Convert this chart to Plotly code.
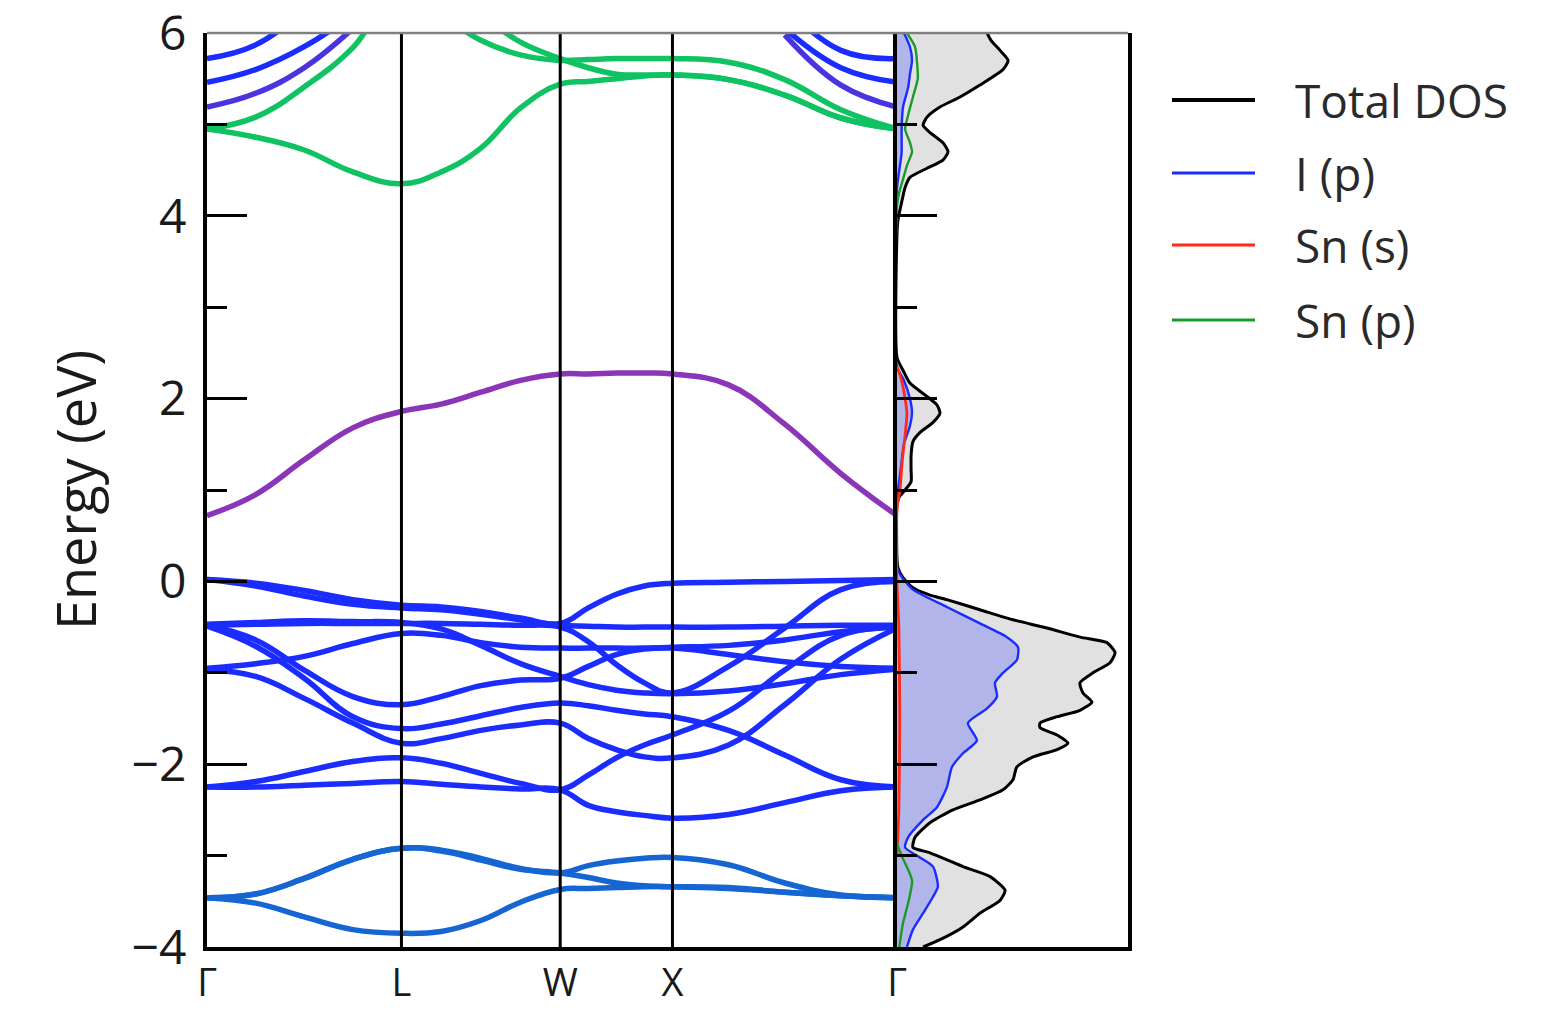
import plotly.graph_objects as go

# ---------------------------------------------------------------------------
# k-path through the fcc Brillouin zone (distances in units of 2*pi/a)
hs_labels = ["Γ", "L", "W", "X", "Γ"]
hs_k = [0.0, 0.866, 1.573, 2.073, 3.073]

# sampling points: each segment split at its quarter points
k_grid = [0.0, 0.2165, 0.433, 0.6495, 0.866,
          1.0428, 1.2195, 1.3963, 1.573,
          1.698, 1.823, 1.948, 2.073,
          2.323, 2.573, 2.823, 3.073]

# ---------------------------------------------------------------------------
# Band energies (eV) on k_grid
# valence I-5p manifold
vb_1 = [0.02, -0.02, -0.10, -0.20, -0.26, -0.28, -0.33, -0.40, -0.46, -0.29, -0.14, -0.05, -0.02, -0.01, 0.00, 0.01, 0.02]
vb_2 = [0.02, -0.05, -0.16, -0.25, -0.29, -0.31, -0.36, -0.42, -0.48, -0.49, -0.50, -0.50, -0.50, -0.50, -0.49, -0.48, -0.48]
vb_3 = [-0.47, -0.45, -0.43, -0.44, -0.45, -0.52, -0.70, -0.90, -1.04, -1.13, -1.19, -1.22, -1.23, -1.20, -1.12, -1.02, -0.96]
vb_4 = [-0.48, -0.47, -0.46, -0.46, -0.46, -0.46, -0.47, -0.48, -0.50, -0.66, -0.91, -1.11, -1.22, -0.93, -0.51, -0.09, 0.00]
vb_5 = [-0.48, -0.64, -0.97, -1.26, -1.35, -1.26, -1.14, -1.08, -1.06, -0.93, -0.80, -0.74, -0.73, -0.80, -0.88, -0.93, -0.95]
vb_6 = [-0.49, -0.71, -1.06, -1.48, -1.61, -1.56, -1.47, -1.38, -1.33, -1.36, -1.41, -1.45, -1.48, -1.63, -1.90, -2.17, -2.25]
vb_7 = [-0.97, -1.04, -1.28, -1.55, -1.77, -1.72, -1.63, -1.57, -1.55, -1.72, -1.84, -1.92, -1.93, -1.79, -1.35, -0.85, -0.51]
vb_8 = [-0.95, -0.90, -0.82, -0.68, -0.57, -0.59, -0.67, -0.72, -0.73, -0.73, -0.73, -0.73, -0.72, -0.70, -0.64, -0.55, -0.50]
vb_9 = [-2.25, -2.25, -2.23, -2.21, -2.19, -2.22, -2.25, -2.27, -2.28, -2.45, -2.52, -2.56, -2.59, -2.55, -2.42, -2.29, -2.25]
vb_10 = [-2.25, -2.19, -2.08, -1.97, -1.93, -1.99, -2.10, -2.21, -2.28, -2.12, -1.93, -1.79, -1.68, -1.42, -0.97, -0.59, -0.50]

# deeper bands around -3 eV
db_1 = [-3.46, -3.42, -3.25, -3.04, -2.92, -2.94, -3.03, -3.14, -3.19, -3.11, -3.06, -3.03, -3.02, -3.10, -3.30, -3.43, -3.46]
db_2 = [-3.46, -3.42, -3.25, -3.04, -2.92, -2.95, -3.05, -3.15, -3.19, -3.24, -3.30, -3.33, -3.34, -3.36, -3.40, -3.44, -3.46]
db_3 = [-3.46, -3.52, -3.67, -3.81, -3.85, -3.83, -3.71, -3.51, -3.37, -3.36, -3.35, -3.34, -3.34, -3.35, -3.40, -3.44, -3.46]

# isolated lowest conduction band
cb_low = [0.72, 0.95, 1.33, 1.68, 1.86, 1.94, 2.07, 2.20, 2.27, 2.27, 2.28, 2.28, 2.27, 2.15, 1.72, 1.18, 0.72]

# upper conduction bands (Sn-5p like)
cb_g1 = [4.95, 4.86, 4.72, 4.48, 4.35, 4.48, 4.74, 5.18, 5.44, 5.47, 5.50, 5.53, 5.54, 5.49, 5.32, 5.07, 4.95]
cb_g2 = [4.95, 5.08, 5.41, 5.84, 6.50, 6.20, 5.92, 5.76, 5.70, 5.71, 5.72, 5.72, 5.72, 5.68, 5.49, 5.16, 4.95]
cb_g3 = [None, None, None, None, 6.80, 6.50, 6.20, 5.90, 5.72, 5.62, 5.55, 5.54, 5.54, 5.49, 5.32, 5.07, 4.95]
cb_b1 = [5.72, 5.87, 6.25, None, None, None, None, None, None, None, None, None, None, None, 6.30, 5.81, 5.72]
cb_b2 = [5.46, 5.60, 5.85, 6.20, None, None, None, None, None, None, None, None, None, None, 6.05, 5.62, 5.46]
cb_b3 = [5.19, 5.34, 5.62, 6.05, None, None, None, None, None, None, None, None, None, None, 5.98, 5.43, 5.19]

# ---------------------------------------------------------------------------
# Density of states (arbitrary units)
e_total = [6.00, 5.92, 5.81, 5.70, 5.60, 5.43, 5.30, 5.19, 5.08, 4.99, 4.91, 4.80, 4.70, 4.61, 4.52, 4.42,
           4.31, 4.17, 3.95, 3.80,
           2.45, 2.31, 2.17, 2.04, 1.93, 1.84, 1.74, 1.63, 1.53, 1.38, 1.22, 1.09, 1.00, 0.92, 0.84,
           0.25, 0.15, 0.04, -0.07, -0.15, -0.20, -0.31, -0.42, -0.51, -0.61, -0.67, -0.78, -0.89, -1.00,
           -1.11, -1.22, -1.32, -1.41, -1.48, -1.55, -1.60, -1.68, -1.77, -1.84, -1.92, -2.03, -2.17, -2.28,
           -2.39, -2.50, -2.64, -2.80, -2.91, -2.97, -3.12, -3.23, -3.38, -3.49, -3.63, -3.78, -3.92, -4.00]
dos_total = [3.90, 4.07, 4.46, 4.81, 4.59, 3.59, 2.73, 1.86, 1.30, 1.13, 1.43, 1.99, 2.21, 1.99, 1.30, 0.56,
             0.35, 0.22, 0.04, 0.00,
             0.00, 0.26, 0.56, 1.21, 1.73, 1.86, 1.56, 1.00, 0.69, 0.61, 0.61, 0.61, 0.35, 0.09, 0.00,
             0.00, 0.04, 0.26, 0.69, 1.43, 2.16, 3.59, 5.02, 6.49, 7.92, 9.09, 9.44, 9.22, 8.48,
             7.92, 8.05, 8.44, 7.92, 6.93, 6.19, 6.19, 6.93, 7.40, 6.93, 5.89, 5.19, 5.02, 4.59,
             3.59, 2.42, 1.43, 0.78, 0.69, 1.43, 2.86, 4.03, 4.68, 4.46, 3.59, 2.86, 1.86, 1.13]

e_ip = [6.00, 5.85, 5.70, 5.55, 5.40, 5.19, 4.94, 4.69, 4.50, 4.30,
        2.35, 2.20, 2.00, 1.85, 1.70, 1.50, 1.20, 0.90,
        0.15, 0.05, -0.09, -0.28, -0.46, -0.61, -0.72, -0.86, -1.00, -1.11, -1.26, -1.39, -1.55, -1.74,
        -1.88, -2.03, -2.25, -2.47, -2.61, -2.80, -2.91, -3.02, -3.12, -3.34, -3.45, -3.63, -3.81, -4.00]
dos_ip = [0.30, 0.56, 0.65, 0.56, 0.48, 0.26, 0.20, 0.20, 0.10, 0.00,
          0.00, 0.30, 0.56, 0.65, 0.56, 0.30, 0.15, 0.00,
          0.00, 0.20, 0.69, 2.16, 3.59, 4.76, 5.24, 5.19, 4.59, 4.24, 4.33, 3.90, 3.07, 3.46,
          2.86, 2.38, 2.16, 1.73, 1.13, 0.48, 0.35, 0.99, 1.56, 1.77, 1.56, 1.13, 0.69, 0.43]

e_sns = [2.35, 2.20, 2.00, 1.84, 1.60, 1.30, 1.00, 0.80,
         0.00, -0.50, -1.50, -2.50, -3.00]
dos_sns = [0.00, 0.20, 0.35, 0.43, 0.35, 0.22, 0.13, 0.00,
           0.00, 0.08, 0.12, 0.08, 0.00]

e_snp = [6.00, 5.85, 5.67, 5.50, 5.30, 5.10, 4.95, 4.80, 4.70, 4.55, 4.40, 4.25, 4.10,
         -2.85, -3.00, -3.27, -3.50, -3.75, -4.00]
dos_snp = [0.43, 0.78, 0.87, 0.90, 0.69, 0.48, 0.35, 0.56, 0.65, 0.43, 0.26, 0.09, 0.00,
           0.00, 0.20, 0.65, 0.50, 0.25, 0.10]

legend_names = ["Total DOS", "I (p)", "Sn (s)", "Sn (p)"]
legend_colors = ["#000000", "#1b2cff", "#ff2a1a", "#1a9a2a"]

# ---------------------------------------------------------------------------
BLUE = "#1b2cff"
DEEP = "#1565d2"
PURPLE = "#8b35b8"
GREEN = "#0fc262"
VIOLET = "#4a34e0"

band_sets = [
    (vb_1, BLUE), (vb_2, BLUE), (vb_3, BLUE), (vb_4, BLUE), (vb_5, BLUE),
    (vb_6, BLUE), (vb_7, BLUE), (vb_8, BLUE), (vb_9, BLUE), (vb_10, BLUE),
    (db_1, DEEP), (db_2, DEEP), (db_3, DEEP),
    (cb_low, PURPLE),
    (cb_b1, BLUE), (cb_b2, BLUE), (cb_b3, VIOLET),
    (cb_g3, GREEN), (cb_g2, GREEN), (cb_g1, GREEN),
]

fig = go.Figure()

for energies, color in band_sets:
    fig.add_trace(go.Scatter(
        x=k_grid, y=energies, mode="lines",
        line=dict(color=color, width=5.5, shape="spline", smoothing=1.2),
        xaxis="x", yaxis="y", showlegend=False, hoverinfo="skip"))

# DOS panel: filled total and I(p) areas, then the outlines
fig.add_trace(go.Scatter(x=dos_total, y=e_total, mode="lines", fill="tozerox",
                         fillcolor="#e1e1e1", line=dict(color="#000000", width=3, shape="spline", smoothing=0.6),
                         xaxis="x2", yaxis="y2", showlegend=False, hoverinfo="skip"))
fig.add_trace(go.Scatter(x=dos_ip, y=e_ip, mode="lines", fill="tozerox",
                         fillcolor="#b2b5e9", line=dict(color=legend_colors[1], width=2.4, shape="spline", smoothing=0.6),
                         xaxis="x2", yaxis="y2", showlegend=False, hoverinfo="skip"))
fig.add_trace(go.Scatter(x=dos_sns, y=e_sns, mode="lines",
                         line=dict(color=legend_colors[2], width=2.8, shape="spline", smoothing=0.6),
                         xaxis="x2", yaxis="y2", showlegend=False, hoverinfo="skip"))
fig.add_trace(go.Scatter(x=dos_snp, y=e_snp, mode="lines",
                         line=dict(color=legend_colors[3], width=2.4, shape="spline", smoothing=0.6),
                         xaxis="x2", yaxis="y2", showlegend=False, hoverinfo="skip"))

W, H = 1563, 1011
x_band = [207 / W, 897 / W]
x_dos = [897 / W, 1128 / W]
y_dom = [1 - 947 / H, 1 - 33 / H]

FONT = "Open Sans"
TXT = "#1a1a1a"

major = [-4, -2, 0, 2, 4, 6]
minor = [-3, -1, 1, 3, 5]

fig.update_layout(
    width=W, height=H,
    margin=dict(l=0, r=0, t=0, b=0),
    paper_bgcolor="white", plot_bgcolor="white",
    font=dict(family=FONT, color=TXT),
    xaxis=dict(domain=x_band, range=[hs_k[0], hs_k[-1]], tickvals=hs_k, ticktext=hs_labels,
               ticks="", showgrid=False, zeroline=False, showline=True, linecolor="black",
               linewidth=3.5, tickfont=dict(size=38, family=FONT, color=TXT),
               ticklabelstandoff=0, ticklabeloverflow="allow", automargin=False),
    yaxis=dict(domain=y_dom, range=[-4, 6], tickvals=major,
               ticktext=["\u22124", "\u22122", "0", "2", "4", "6"],
               ticks="inside", ticklen=40, tickwidth=2.5, tickcolor="black",
               minor=dict(tickvals=minor, ticks="inside", ticklen=20, tickwidth=2.5, tickcolor="black"),
               showgrid=False, zeroline=False, showline=True, linecolor="black", linewidth=4,
               tickfont=dict(size=48, family=FONT, color=TXT), ticklabelstandoff=7,
               ticklabeloverflow="allow", automargin=False),
    xaxis2=dict(domain=x_dos, range=[0, 10], anchor="y2", showticklabels=False, ticks="",
                showgrid=False, zeroline=False, showline=True, linecolor="black", linewidth=3.5),
    yaxis2=dict(domain=y_dom, range=[-4, 6], anchor="x2", tickvals=major,
                ticks="inside", ticklen=40, tickwidth=2.5, tickcolor="black",
                minor=dict(tickvals=minor, ticks="inside", ticklen=20, tickwidth=2.5, tickcolor="black"),
                showticklabels=False, showgrid=False, zeroline=False, showline=True,
                mirror=True, linecolor="black", linewidth=3.5),
)

shapes = []
# vertical markers at the interior high-symmetry points
for kv in hs_k[1:-1]:
    shapes.append(dict(type="line", xref="x", yref="y", x0=kv, x1=kv, y0=-4, y1=6,
                       line=dict(color="black", width=3), layer="above"))
# light top frame over both panels
shapes.append(dict(type="line", xref="paper", yref="paper", x0=x_band[0], x1=x_dos[1],
                   y0=y_dom[1], y1=y_dom[1], line=dict(color="#808080", width=2.5), layer="above"))

annotations = [dict(text="Energy (eV)", textangle=-90, xref="paper", yref="paper",
                    x=75 / W, y=(y_dom[0] + y_dom[1]) / 2, xanchor="center", yanchor="middle",
                    showarrow=False, font=dict(size=54, family=FONT, color=TXT))]

# hand-drawn legend with long line keys
leg_y = [100, 173, 245, 320]
leg_w = [4, 3, 3, 3]
for name, color, yy, lw in zip(legend_names, legend_colors, leg_y, leg_w):
    yp = 1 - yy / H
    shapes.append(dict(type="line", xref="paper", yref="paper", x0=1172 / W, x1=1255 / W,
                       y0=yp, y1=yp, line=dict(color=color, width=lw)))
    annotations.append(dict(text=name, xref="paper", yref="paper", x=1293 / W, y=yp,
                            xanchor="left", yanchor="middle", showarrow=False,
                            font=dict(size=46, family=FONT, color="#2a2a2a")))

fig.update_layout(shapes=shapes, annotations=annotations)

fig.write_html("out.html")
